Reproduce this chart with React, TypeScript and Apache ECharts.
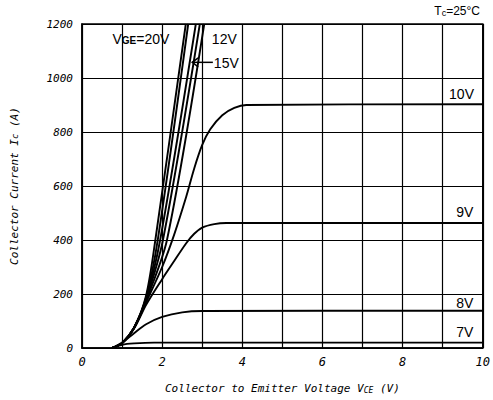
import React, { useEffect, useRef } from "react";
import * as echarts from "echarts";

// ---- data (V_CE in volts, I_C in amperes) ----
const xRange = [0, 10];
const yRange = [0, 1200];
const xStep = 1;
const yStep = 200;

const curve7V = [[0.75, 0], [1.0, 12], [1.3, 17], [1.8, 20], [10, 20]];
const curve8V = [[0.75, 0], [1.0, 20], [1.3, 55], [1.6, 88], [2.0, 115], [2.5, 132], [3.0, 137], [10, 138]];
const curve9V = [[0.75, 0], [1.0, 18], [1.3, 72], [1.6, 160], [2.0, 255], [2.3, 322], [2.6, 388], [2.8, 423], [3.0, 446], [3.3, 459], [3.6, 463], [10, 463]];
const curve10V = [[0.75, 0], [1.0, 18], [1.3, 75], [1.6, 170], [2.0, 300], [2.3, 420], [2.6, 560], [2.8, 665], [3.0, 752], [3.2, 810], [3.5, 862], [3.8, 889], [4.1, 900], [10, 903]];
const curve12V = [[0.75, 0], [1.0, 18], [1.3, 75], [1.6, 176], [2.12, 400], [3.05, 1200]];
const curve15Va = [[0.75, 0], [1.0, 18], [1.3, 75], [1.6, 180], [2.02, 400], [2.94, 1200]];
const curve15V = [[0.75, 0], [1.0, 18], [1.3, 75], [1.6, 183], [1.95, 400], [2.84, 1200]];
const curve20Vb = [[0.75, 0], [1.0, 18], [1.3, 75], [1.6, 188], [1.89, 400], [2.65, 1200]];
const curve20V = [[0.75, 0], [1.0, 18], [1.3, 75], [1.6, 195], [1.83, 400], [2.59, 1200]];

const seriesNames = ["7V", "8V", "9V", "10V", "12V", "15V (a)", "15V", "20V (b)", "20V"];
const seriesData = [curve7V, curve8V, curve9V, curve10V, curve12V, curve15Va, curve15V, curve20Vb, curve20V];

const curveLabels = ["10V", "9V", "8V", "7V", "12V", "15V"];
const gateLabelMain = "V";
const gateLabelSub = "GE";
const gateLabelTail = "=20V";
const tempLabel = ["T", "c", "=25°C"];
const xAxisTitle = ["Collector to Emitter Voltage V", "CE", " (V)"];
const yAxisTitle = ["Collector Current I", "c", " (A)"];

// label anchors in data space (layout only)
const labelAnchors: Record<string, [number, number]> = {
  "10V": [9.47, 941],
  "9V": [9.55, 504],
  "8V": [9.55, 167],
  "7V": [9.55, 59],
  "12V": [3.24, 1144],
  "15V": [3.29, 1055],
  gate: [0.76, 1144],
  arrowTip: [2.75, 1058],
};

const MONO = "'DejaVu Sans Mono', monospace";
const SANS = "'Liberation Sans', Arial, sans-serif";

export default function App() {
  const ref = useRef<HTMLDivElement>(null);

  useEffect(() => {
    if (!ref.current) return;
    const chart = echarts.init(ref.current, undefined, { renderer: "svg" });
    const option: any = {
      animation: false,
      backgroundColor: "#fff",
      grid: {
        left: 82,
        right: 7,
        top: 24,
        bottom: 52,
        show: true,
        borderColor: "#000",
        borderWidth: 1.5,
        backgroundColor: "transparent",
      },
      xAxis: {
        type: "value",
        min: xRange[0],
        max: xRange[1],
        interval: xStep,
        axisLine: { show: true, lineStyle: { color: "#000", width: 1.5 } },
        axisTick: { show: false },
        splitLine: { show: true, lineStyle: { color: "#000", width: 1.2 } },
        axisLabel: {
          color: "#000",
          fontFamily: MONO,
          fontStyle: "italic",
          fontSize: 12,
          margin: 8,
          formatter: (v: number) => (v % 2 === 0 ? String(v) : ""),
        },
        name: `{a|${xAxisTitle[0]}}{b|${xAxisTitle[1]}}{a|${xAxisTitle[2]}}`,
        nameLocation: "middle",
        nameGap: 35,
        nameTextStyle: {
          rich: {
            a: { fontFamily: MONO, fontStyle: "italic", fontSize: 11, color: "#000" },
            b: { fontFamily: MONO, fontStyle: "italic", fontSize: 8, color: "#000", padding: [3, 0, 0, 0] },
          },
        },
      },
      yAxis: {
        type: "value",
        min: yRange[0],
        max: yRange[1],
        interval: yStep,
        axisLine: { show: true, lineStyle: { color: "#000", width: 1.5 } },
        axisTick: { show: false },
        splitLine: { show: true, lineStyle: { color: "#000", width: 1.2 } },
        axisLabel: {
          color: "#000",
          fontFamily: MONO,
          fontStyle: "italic",
          fontSize: 11,
          margin: 9,
          formatter: (v: number) => String(v),
        },
        name: `{a|${yAxisTitle[0]}}{b|${yAxisTitle[1]}}{a|${yAxisTitle[2]}}`,
        nameLocation: "middle",
        nameRotate: 90,
        nameGap: 62,
        nameTextStyle: {
          rich: {
            a: { fontFamily: MONO, fontStyle: "italic", fontSize: 11, color: "#000" },
            b: { fontFamily: MONO, fontStyle: "italic", fontSize: 9, color: "#000" },
          },
        },
      },
      series: seriesData.map((d, i) => ({
        name: seriesNames[i],
        type: "line",
        data: d,
        showSymbol: false,
        symbol: "none",
        smooth: 0.3,
        clip: true,
        lineStyle: { color: "#000", width: 1.9 },
      })),
    };
    chart.setOption(option);

    const px = (p: [number, number]) => chart.convertToPixel({ gridIndex: 0 }, p) as number[];
    const graphics: any[] = [];
    curveLabels.forEach((t) => {
      const [x, y] = px(labelAnchors[t]);
      const isRight = t !== "12V" && t !== "15V";
      graphics.push({
        type: "text",
        x,
        y,
        style: {
          text: t,
          fontFamily: SANS,
          fontSize: 14,
          fill: "#000",
          align: isRight ? "center" : "left",
          verticalAlign: "middle",
        },
      });
    });
    const [gx, gy] = px(labelAnchors.gate);
    graphics.push({
      type: "text",
      x: gx,
      y: gy,
      style: {
        text: `{a|${gateLabelMain}}{b|${gateLabelSub}}{a|${gateLabelTail}}`,
        verticalAlign: "middle",
        align: "left",
        rich: {
          a: { fontFamily: SANS, fontSize: 14, fill: "#000" },
          b: { fontFamily: SANS, fontSize: 10, fontWeight: "bold", fill: "#000", padding: [3, 0, 0, 0] },
        },
      },
    });
    const [ax, ay] = px(labelAnchors.arrowTip);
    const [lx] = px(labelAnchors["15V"]);
    graphics.push({
      type: "line",
      shape: { x1: ax, y1: ay, x2: lx - 1, y2: ay },
      style: { stroke: "#000", lineWidth: 1.5 },
    });
    graphics.push({
      type: "polyline",
      shape: { points: [[ax + 6, ay - 4.5], [ax, ay], [ax + 6, ay + 4.5]] },
      style: { stroke: "#000", lineWidth: 1.5, fill: "none" },
    });
    graphics.push({
      type: "text",
      right: 13,
      top: 5,
      style: {
        text: `{a|${tempLabel[0]}}{b|${tempLabel[1]}}{a|${tempLabel[2]}}`,
        rich: {
          a: { fontFamily: SANS, fontSize: 12, fill: "#000" },
          b: { fontFamily: SANS, fontSize: 9, fill: "#000", padding: [3, 0, 0, 0] },
        },
      },
    });
    chart.setOption({ graphic: graphics });

    return () => chart.dispose();
  }, []);

  return (
    <div
      ref={ref}
      style={{ position: "fixed", left: 0, top: 0, width: 493, height: 400, background: "#fff" }}
    />
  );
}
